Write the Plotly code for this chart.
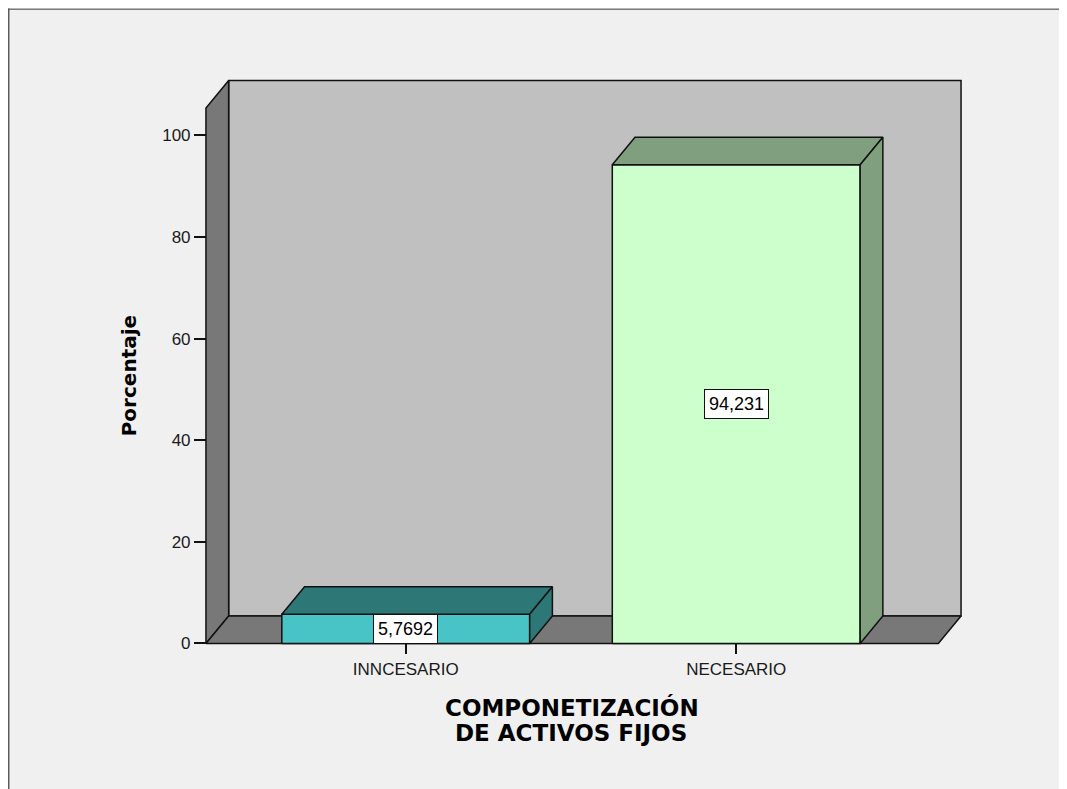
import plotly.graph_objects as go

# ---- data ----
categories = ["INNCESARIO", "NECESARIO"]
values = [5.7692, 94.231]
y_ticks = [0, 20, 40, 60, 80, 100]
y_title = "Porcentaje"
x_title_lines = ["COMPONETIZACIÓN", "DE ACTIVOS FIJOS"]
front_colors = ["#48c3c6", "#ccffcc"]
shade_colors = ["#2e7777", "#7f9f7f"]

# ---- geometry of the pseudo-3D frame (in data units) ----
OFF = 8                         # page body margin
W, H = 1067 - OFF, 789 - OFF
bar_w = 0.75
dx, dy = 0.0687, 5.41          # depth offset
x_front_left, x_front_right = -0.6046, 1.6116
y_back_top = 110.8
xr = [x_front_left - 0.015, x_front_right + dx + 0.015]
yr = [-0.3, y_back_top + 0.3]

# pixel mapping (figure coordinates) used to place the plot area
sx, sy = 330.4, 5.083
cx0, cy0 = 405.7 - OFF, 643.3 - OFF
l = cx0 + xr[0] * sx
r = W - (cx0 + xr[1] * sx)
t = cy0 - yr[1] * sy
b = H - (cy0 - yr[0] * sy)
PW, PH = W - l - r, H - t - b

def px_x(p):
    return (p - OFF - l) / PW

def px_y(p):
    return (H - b - (p - OFF)) / PH

FONT = "Liberation Sans, Arial, sans-serif"
TFONT = "DejaVu Sans, Liberation Sans, Arial, sans-serif"

fig = go.Figure()

def poly(xs, ys, fill):
    fig.add_trace(go.Scatter(
        x=list(xs) + [xs[0]], y=list(ys) + [ys[0]], mode="lines", fill="toself",
        fillcolor=fill, line=dict(color="#111111", width=1.5),
        hoverinfo="skip", showlegend=False))

bx0, by0 = x_front_left + dx, dy
bx1 = x_front_right + dx
# back wall
poly([bx0, bx1, bx1, bx0], [by0, by0, y_back_top, y_back_top], "#c0c0c0")
# left wall
poly([x_front_left, bx0, bx0, x_front_left],
     [0, by0, y_back_top, y_back_top - dy], "#787878")
# floor
poly([x_front_left, x_front_right, bx1, bx0], [0, 0, dy, dy], "#787878")

# bars
for i, (cat, v) in enumerate(zip(categories, values)):
    xa, xb = i - bar_w / 2, i + bar_w / 2
    poly([xa, xb, xb, xa], [0, 0, v, v], front_colors[i])
    poly([xa, xb, xb + dx, xa + dx], [v, v, v + dy, v + dy], shade_colors[i])
    poly([xb, xb + dx, xb + dx, xb], [0, dy, v + dy, v], shade_colors[i])
    fig.add_annotation(x=i, y=v / 2, xref="x", yref="y",
                       text=f"{v}".replace(".", ","), showarrow=False,
                       font=dict(family=FONT, size=18, color="#000000"),
                       bgcolor="#ffffff", bordercolor="#111111", borderwidth=1,
                       borderpad=4)

# titles
fig.add_annotation(x=px_x(129), y=px_y(376), xref="paper", yref="paper",
                   text=f"<b>{y_title}</b>", textangle=-90, showarrow=False,
                   xanchor="center", yanchor="middle",
                   font=dict(family=TFONT, size=20, color="#000000"))
fig.add_annotation(x=px_x(572), y=px_y(707), xref="paper", yref="paper",
                   text=f"<b>{x_title_lines[0]}</b>", showarrow=False,
                   xanchor="center", yanchor="middle",
                   font=dict(family=TFONT, size=23, color="#000000"))
fig.add_annotation(x=px_x(571), y=px_y(733), xref="paper", yref="paper",
                   text=f"<b>{x_title_lines[1]}</b>", showarrow=False,
                   xanchor="center", yanchor="middle",
                   font=dict(family=TFONT, size=23, color="#000000"))

# frame border (top and left edges of the figure)
fig.add_shape(type="line", xref="paper", yref="paper",
              x0=px_x(OFF), x1=px_x(OFF + W + 2), y0=px_y(OFF + 0.75), y1=px_y(OFF + 0.75),
              line=dict(color="#7a7a7a", width=1.5))
fig.add_shape(type="line", xref="paper", yref="paper",
              x0=px_x(OFF + 0.75), x1=px_x(OFF + 0.75), y0=px_y(OFF), y1=px_y(OFF + H + 2),
              line=dict(color="#5a5a5a", width=1.5))

fig.update_layout(
    width=W, height=H,
    margin=dict(l=l, r=r, t=t, b=b, pad=0),
    paper_bgcolor="#f0f0f0", plot_bgcolor="rgba(0,0,0,0)",
    xaxis=dict(range=xr, tickmode="array", tickvals=list(range(len(categories))),
               ticktext=categories, showgrid=False, zeroline=False, showline=False,
               ticks="outside", ticklen=10, tickwidth=1.5, tickcolor="#111111",
               anchor="free", position=(0 - yr[0]) / (yr[1] - yr[0]),
               tickfont=dict(family=FONT, size=17, color="#1a1a1a"), fixedrange=True),
    yaxis=dict(range=yr, tickmode="array", tickvals=y_ticks,
               showgrid=False, zeroline=False, showline=False,
               ticks="outside", ticklen=12, tickwidth=1.5, tickcolor="#111111",
               anchor="free", position=(x_front_left - xr[0]) / (xr[1] - xr[0]),
               tickfont=dict(family=FONT, size=17, color="#1a1a1a"), fixedrange=True),
)

fig.write_html("out.html",
               post_script="document.documentElement.style.overflow='hidden';"
                           "document.body.style.overflow='hidden';")
